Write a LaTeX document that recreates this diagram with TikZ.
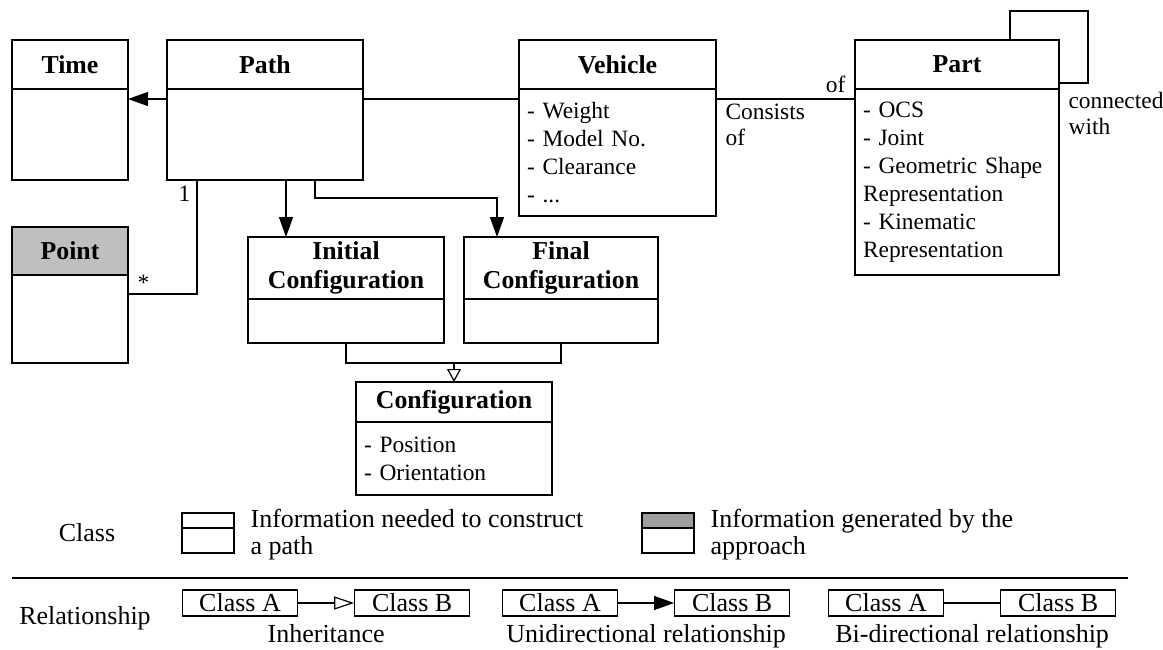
\documentclass[tikz,border=0pt]{standalone}
\usepackage{fontspec}
\setmainfont{Liberation Serif}
\usetikzlibrary{positioning, arrows.meta, calc}

\tikzset{
  hdr/.style={draw, inner sep=0pt, outer sep=0pt, align=center, anchor=north west,
    font=\fontsize{12.9}{14.5}\selectfont\bfseries},
  bdy/.style={draw, inner xsep=4pt, inner ysep=0pt, outer sep=0pt, align=left,
    font=\fontsize{11.7}{14}\selectfont},
  lbl/.style={inner sep=0pt, align=left, font=\fontsize{11.7}{13}\selectfont},
  lgd/.style={inner sep=0pt, align=left, font=\fontsize{13}{13.3}\selectfont},
  lbox/.style={draw, minimum width=57.5pt, minimum height=13pt, inner sep=0pt,
    font=\fontsize{13}{13.3}\selectfont},
  uni/.style={-{Triangle[length=10pt,width=7pt]}},
  inh/.style={-{Triangle[open,length=6.5pt,width=7pt]}},
  inhl/.style={-{Triangle[open,length=10pt,width=6.5pt]}},
}

\begin{document}
\begin{tikzpicture}[x=0.5pt, y=-0.5pt, line width=0.6pt]
    \useasboundingbox (0,0) rectangle (1163,649);

    % classes
    \node[hdr, minimum width=58pt, minimum height=24.5pt] (timeH) at (12,40) {Time};
    \node[bdy, minimum width=58pt, minimum height=45.5pt, below=0pt of timeH] (timeB) {};

    \node[hdr, minimum width=98pt, minimum height=24.5pt] (pathH) at (167,40) {Path};
    \node[bdy, minimum width=98pt, minimum height=45.5pt, below=0pt of pathH] (pathB) {};

    \node[hdr, fill=gray!50, minimum width=58pt, minimum height=24pt] (pointH) at (12,227) {Point};
    \node[bdy, minimum width=58pt, minimum height=44pt, below=0pt of pointH] (pointB) {};

    \node[hdr, minimum width=98.5pt, minimum height=24.5pt] (vehH) at (519,40) {Vehicle};
    \node[bdy, minimum width=98.5pt, text width=90.5pt, minimum height=63.5pt, below=0pt of vehH] (vehB)
        {- Weight\\- Model No.\\- Clearance\\- ...};

    \node[hdr, minimum width=102pt, minimum height=24.5pt] (partH) at (855,40) {Part};
    \node[bdy, minimum width=102pt, text width=94pt, minimum height=93pt, below=0pt of partH] (partB)
        {- OCS\\- Joint\\- Geometric Shape\\Representation\\- Kinematic\\Representation};

    \node[hdr, minimum width=98pt, minimum height=31pt] (initH) at (248,237) {Initial\\Configuration};
    \node[bdy, minimum width=98pt, minimum height=22pt, below=0pt of initH] (initB) {};

    \node[hdr, minimum width=97pt, minimum height=31pt] (finH) at (464,237) {Final\\Configuration};
    \node[bdy, minimum width=97pt, minimum height=22pt, below=0pt of finH] (finB) {};

    \node[hdr, minimum width=98pt, minimum height=20pt] (confH) at (356,382) {Configuration};
    \node[bdy, minimum width=98pt, text width=90pt, minimum height=36.5pt, below=0pt of confH] (confB)
        {- Position\\- Orientation};

    % relations
    \coordinate (pt) at ($(pathB.north west)+(0,10)$);
    \draw[uni] (pt) -- (pt -| timeB.east);

    \coordinate (vp) at ($(vehB.north west)+(0,10)$);
    \draw (pathB.east |- vp) -- (vp);

    \coordinate (vr) at ($(vehB.north east)+(0,10)$);
    \draw (vr) node[lbl, anchor=north west, xshift=4.5pt, yshift=-2pt] {Consists\\of}
        -- (vr -| partB.west) node[lbl, anchor=south east, xshift=-4.5pt, yshift=3pt] {of};

    \coordinate (lpA) at ($(partH.north east)+(-49,-29)$);
    \coordinate (lpB) at ($(partH.south east)+(29,-6)$);
    \draw (partH.north -| lpA) -- (lpA) -| (lpB) -- (lpB -| partH.east);
    \node[lbl, anchor=north west] at ($(partH.south east)+(9,3)$) {connected\\with};

    \coordinate (pp) at ($(pathB.south west)+(30,0)$);
    \draw (pp) |- ($(pointB.north east)+(0,19)$);
    \node[lbl, anchor=base east] at ($(pp)+(-6,21)$) {1};
    \node[lbl, anchor=base west] at ($(pointB.north east)+(9,15)$) {*};

    \coordinate (pi) at ($(pathB.south west)+(119,0)$);
    \draw[uni] (pi) -- (pi |- initH.north);
    \coordinate (pf) at ($(pathB.south west)+(148,0)$);
    \draw[uni] (pf) |- ($(finH.north west)+(33,-39)$) -- ($(finH.north west)+(33,0)$);

    \coordinate (jn) at ($(confH.north)+(0,-19)$);
    \draw (initB.south) |- (jn) -| (finB.south);
    \draw[inh] (jn) -- (confH.north);

    % legend
    \node[lgd] (classT) at (87,533) {Class};
    \node[hdr, minimum width=26pt, minimum height=7.5pt] (icoH) at (182,513) {};
    \node[bdy, minimum width=26pt, minimum height=12.5pt, below=0pt of icoH] (icoB) {};
    \node[lgd, anchor=north west] (needT) at ($(icoH.north east)+(16,-4)$) {Information needed to construct\\a path};
    \node[hdr, fill=gray!75, minimum width=26pt, minimum height=7.5pt] (genH) at (642,513) {};
    \node[bdy, minimum width=26pt, minimum height=12.5pt, below=0pt of genH] (genB) {};
    \node[lgd, anchor=north west] (genT) at ($(genH.north east)+(16,-4)$) {Information generated by the\\approach};

    \draw (12,578) -- (1128,578);

    \node[lgd] (relT) at (85,618) {Relationship};
    \node[lbox] (clsA1) at (240,603) {Class A};
    \node[lbox, right=28pt of clsA1] (clsB1) {Class B};
    \node[lbox] (clsA2) at (560,603) {Class A};
    \node[lbox, right=28pt of clsA2] (clsB2) {Class B};
    \node[lbox] (clsA3) at (886,603) {Class A};
    \node[lbox, right=28pt of clsA3] (clsB3) {Class B};

    \draw[inhl] (clsA1) -- (clsB1);
    \draw[uni] (clsA2) -- (clsB2);
    \draw (clsA3) -- (clsB3);

    \node[lgd, anchor=base] at ($(clsA1.south)!0.5!(clsB1.south)+(0,26)$) {Inheritance};
    \node[lgd, anchor=base] at ($(clsA2.south)!0.5!(clsB2.south)+(0,26)$) {Unidirectional relationship};
    \node[lgd, anchor=base] at ($(clsA3.south)!0.5!(clsB3.south)+(0,26)$) {Bi-directional relationship};
\end{tikzpicture}
\end{document}
